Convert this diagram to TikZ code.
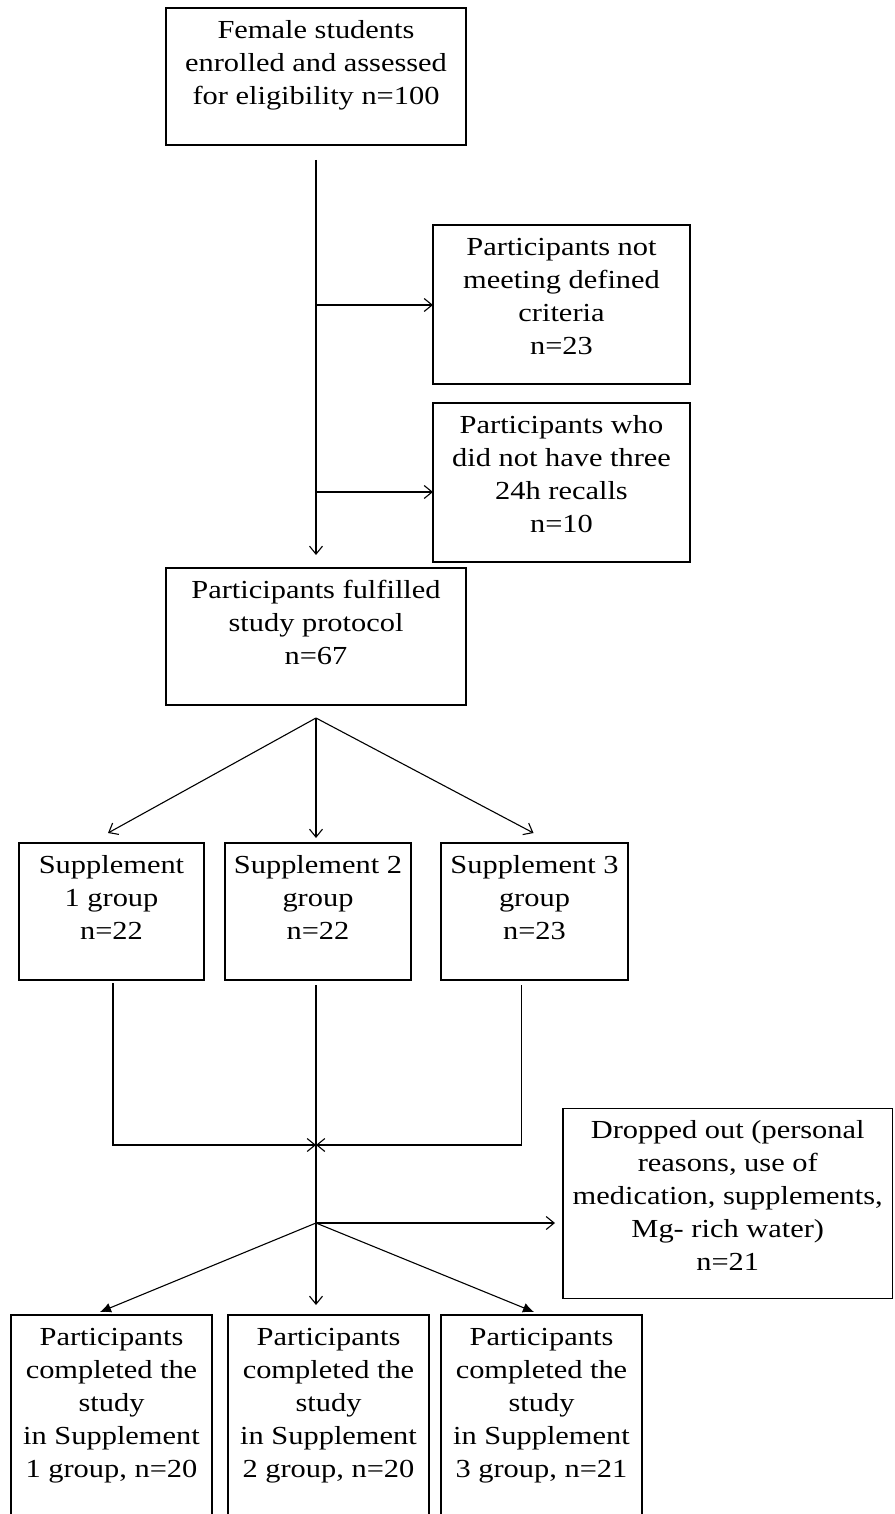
\documentclass[tikz,border=0pt]{standalone}
\usepackage{fontspec}
\setmainfont{Liberation Serif}[FakeStretch=1.17]
\usetikzlibrary{arrows.meta}
\tikzset{
  bx/.style={draw, line width=1.3pt, inner sep=0pt, outer sep=0pt, anchor=center},
  ln/.style={line width=1.1pt},
  va/.style={ln, -{Straight Barb[length=8pt,width=13pt,line width=1.1pt]}},
  fa/.style={ln, -{Latex[length=11pt,width=10pt]}},
}
\newcommand{\boxtext}[3]{\parbox[c][#2][t]{#1}{\centering\fontsize{26pt}{33pt}\selectfont\vspace*{7pt}\strut #3}}
\begin{document}
\begin{tikzpicture}[x=1pt,y=-1pt]
\path[fill=white, use as bounding box] (0,0) rectangle (894,1514);

\node[bx] (top) at (316,76.5) {\boxtext{300pt}{137pt}{Female students\\enrolled and assessed\\for eligibility n=100}};
\node[bx] (nm) at (561.5,304.5) {\boxtext{257pt}{159pt}{Participants not\\meeting defined\\criteria\\n=23}};
\node[bx] (dn) at (561.5,482.5) {\boxtext{257pt}{159pt}{Participants who\\did not have three\\24h recalls\\n=10}};
\node[bx] (fp) at (316,636.5) {\boxtext{300pt}{137pt}{Participants fulfilled\\study protocol\\n=67}};
\node[bx] (s1) at (111.5,911.5) {\boxtext{185pt}{137pt}{Supplement\\1 group\\n=22}};
\node[bx] (s2) at (318,911.5) {\boxtext{186pt}{137pt}{Supplement 2\\group\\n=22}};
\node[bx] (s3) at (534.5,911.5) {\boxtext{187pt}{137pt}{Supplement 3\\group\\n=23}};
\node[bx] (dr) at (727.75,1203.5) {\boxtext{329.5pt}{190pt}{Dropped out (personal\\reasons, use of\\medication, supplements,\\Mg- rich water)\\n=21}};
\node[bx] (c1) at (111.5,1425) {\boxtext{201pt}{220pt}{Participants\\completed the\\study\\in Supplement\\1 group, n=20}};
\node[bx] (c2) at (328.5,1425) {\boxtext{201pt}{220pt}{Participants\\completed the\\study\\in Supplement\\2 group, n=20}};
\node[bx] (c3) at (541.5,1425) {\boxtext{201pt}{220pt}{Participants\\completed the\\study\\in Supplement\\3 group, n=21}};

\coordinate (j1) at (316,305);
\coordinate (j2) at (316,492);
\draw[va, shorten <=15pt, shorten >=13pt] (top.south) -- (fp.north);
\draw[va] (j1) -- (j1 -| nm.west);
\draw[va] (j2) -- (j2 -| dn.west);

\coordinate (f1) at (316,718);
\draw[va] (f1) -- ([xshift=-3.5pt,yshift=10pt]s1.north);
\draw[va] (f1) -- ([xshift=-2pt,yshift=5pt]s2.north);
\draw[va] (f1) -- ([xshift=-1pt,yshift=10pt]s3.north);

\coordinate (m) at (316,1145);
\coordinate (f2) at (316,1223);
\draw[va] ([xshift=1.5pt,yshift=-3pt]s1.south) |- (m);
\draw[va] ([xshift=-13pt,yshift=-5pt]s3.south) |- (m);
\draw[ln] ([xshift=-2pt,yshift=-5pt]s2.south) -- (f2);
\draw[va, shorten >=8pt] (f2) -- (f2 -| dr.west);
\draw[fa] (f2) -- ([xshift=-11.5pt,yshift=3pt]c1.north);
\draw[va] (f2) -- ([xshift=-12.5pt,yshift=10pt]c2.north);
\draw[fa] (f2) -- ([xshift=-7.5pt,yshift=3pt]c3.north);
\end{tikzpicture}
\end{document}
